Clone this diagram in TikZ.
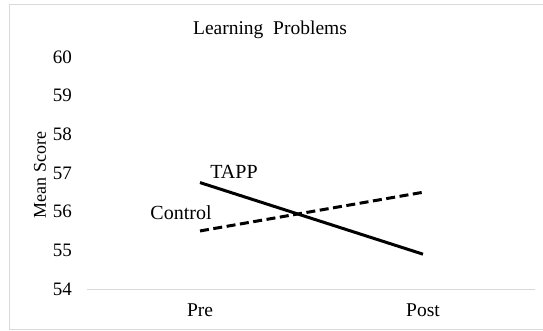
\documentclass[tikz,border=0pt]{standalone}
\usepackage{fontspec}
\setmainfont{Liberation Serif}
\begin{document}
\begin{tikzpicture}[x=1pt,y=-1pt,
  frame/.style={draw=black!15,line width=1pt},
  grid/.style={draw=black!15,line width=0.8pt},
  ticklab/.style={anchor=east,inner sep=0pt,font=\fontsize{19}{19}\selectfont},
  catlab/.style={inner sep=0pt,font=\fontsize{19.5}{19.5}\selectfont},
  serieslab/.style={inner sep=0pt,font=\fontsize{20}{20}\selectfont},
  series/.style={line width=3pt,line cap=butt},
  dashedseries/.style={series,dash pattern=on 9pt off 4.5pt}]
\useasboundingbox (0,0) rectangle (543,330);
% chart frame
\draw[frame] (9,4) rectangle (550,329);
% title
\node[catlab] (title) at (270,30) {Learning\ \ Problems};
% value axis labels
\foreach \v in {54,...,60}{
  \node[ticklab] (t\v) at (72,{289-38.7*(\v-54)}) {\v};
}
\node[catlab,rotate=90,font=\fontsize{18}{18}\selectfont] (ytitle) at (40,175) {Mean Score};
% category axis
\coordinate (axL) at (87,289);
\coordinate (axR) at (535,289);
\draw[grid] (axL) -- (axR);
\node[catlab] (pre) at (200,310) {Pre};
\node[catlab] (post) at (423,310) {Post};
% data points
\coordinate (tappPre) at (200,{289-38.7*2.75});
\coordinate (tappPost) at (423,{289-38.7*0.9});
\coordinate (ctrlPre) at (200,{289-38.7*1.5});
\coordinate (ctrlPost) at (423,{289-38.7*2.5});
% series
\draw[dashedseries] (ctrlPre) -- (ctrlPost);
\draw[series] (tappPre) -- (tappPost);
% series labels
\node[serieslab] (tapp) at (234,172) {TAPP};
\node[serieslab] (ctrl) at (181,213) {Control};
\end{tikzpicture}
\end{document}
